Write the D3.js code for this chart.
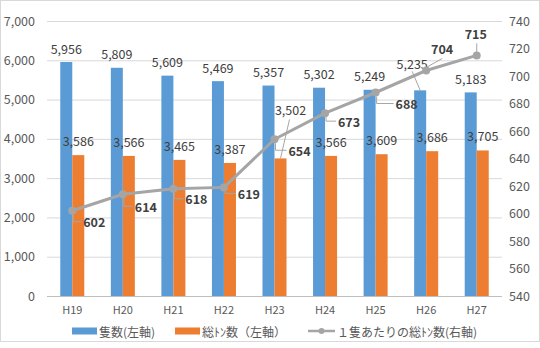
<!DOCTYPE html>
<html><head><meta charset="utf-8">
<script src="https://cdn.jsdelivr.net/npm/d3@7"></script>
<style>
html,body{margin:0;padding:0;background:#fff;}
svg text{font-family:"Noto Sans CJK JP","Noto Sans",sans-serif;}
</style></head>
<body><svg id="c" width="540" height="348"></svg>
<script>
// ---- data ----
const categories = ["H19","H20","H21","H22","H23","H24","H25","H26","H27"];
const shipCounts = [5956,5809,5609,5469,5357,5302,5249,5235,5183];
const grossTons  = [3586,3566,3465,3387,3502,3566,3609,3686,3705];
const tonsPerShip = [602,614,618,619,654,673,688,704,715];
const leftTicks = [0,1000,2000,3000,4000,5000,6000,7000];
const rightTicks = [540,560,580,600,620,640,660,680,700,720,740];
const legendLabels = ["隻数(左軸)","総ﾄﾝ数（左軸）","１隻あたりの総ﾄﾝ数(右軸)"];

// ---- layout ----
const W=540,H=348;
const plot={l:47,r:502,t:21,b:296};
const colors={blue:"#5B9BD5",orange:"#ED7D31",gray:"#A5A5A5",text:"#404040",axis:"#595959",grid:"#D9D9D9"};
// label offsets for line labels (dx,dy of label centre from point)
const lineLabelOffset=[[22,11],[23,12],[23,10],[25,6],[25,11],[24,8],[31,11],[16,-22],[-1,-22]];

const svg=d3.select("#c");
svg.append("rect").attr("x",0.5).attr("y",0.5).attr("width",539).attr("height",341)
  .attr("fill","#fff").attr("stroke","#D9D9D9");

const x=d3.scaleBand().domain(categories).range([plot.l,plot.r]).paddingInner(0.525).paddingOuter(0.2625);
const xs=d3.scaleBand().domain(["a","b"]).range([0,x.bandwidth()]);
const yL=d3.scaleLinear().domain([0,7000]).range([plot.b,plot.t]);
const yR=d3.scaleLinear().domain([540,740]).range([plot.b,plot.t]);

// grid
svg.append("g").selectAll("line").data(leftTicks.filter(d=>d>0)).join("line")
  .attr("x1",plot.l).attr("x2",plot.r).attr("y1",d=>yL(d)+0.5).attr("y2",d=>yL(d)+0.5)
  .attr("stroke",colors.grid).attr("stroke-width",1);

// left axis
const gL=svg.append("g").attr("transform",`translate(${plot.l},0)`)
  .call(d3.axisLeft(yL).tickValues(leftTicks).tickFormat(d3.format(",")).tickSize(0).tickPadding(12));
gL.select(".domain").remove();
gL.selectAll("text").attr("fill",colors.axis).style("font-size","12.5px");

// right axis
const gR=svg.append("g").attr("transform",`translate(${plot.r},0)`)
  .call(d3.axisRight(yR).tickValues(rightTicks).tickSize(0).tickPadding(7));
gR.select(".domain").remove();
gR.selectAll("text").attr("fill",colors.axis).style("font-size","12.5px");

// bottom axis
const gB=svg.append("g").attr("transform",`translate(0,${plot.b})`)
  .call(d3.axisBottom(x).tickSize(0).tickPadding(10));
gB.select(".domain").remove();
gB.selectAll("text").attr("fill",colors.axis).style("font-size","11px");

// bars
const bars=svg.append("g");
bars.selectAll(".b1").data(categories).join("rect")
  .attr("x",d=>x(d)+xs("a")).attr("width",xs.bandwidth())
  .attr("y",(d,i)=>yL(shipCounts[i])).attr("height",(d,i)=>plot.b-yL(shipCounts[i]))
  .attr("fill",colors.blue);
bars.selectAll(".b2").data(categories).join("rect")
  .attr("x",d=>x(d)+xs("b")).attr("width",xs.bandwidth())
  .attr("y",(d,i)=>yL(grossTons[i])).attr("height",(d,i)=>plot.b-yL(grossTons[i]))
  .attr("fill",colors.orange);

// axis line
svg.append("line").attr("x1",plot.l).attr("x2",plot.r).attr("y1",plot.b+0.5).attr("y2",plot.b+0.5)
  .attr("stroke","#BFBFBF");

const lbl=svg.append("g");
// blue bar labels (H26 moved), orange (H23 moved)
const blueMove=categories.map((d,i)=>i===7?[-8,-13]:[0,0]);
const orangeMove=categories.map((d,i)=>i===4?[10,-34]:[0,0]);
categories.forEach((d,i)=>{
  if(blueMove[i][0]||blueMove[i][1]){
    const bx=x(d)+xs("a")+xs.bandwidth()/2, by=yL(shipCounts[i]);
    lbl.append("line").attr("x1",bx+blueMove[i][0]).attr("y1",by-14+blueMove[i][1]+8)
      .attr("x2",bx).attr("y2",by).attr("stroke","#A6A6A6");
  }
  if(orangeMove[i][0]||orangeMove[i][1]){
    const bx=x(d)+xs("b")+xs.bandwidth()/2, by=yL(grossTons[i]);
    lbl.append("line").attr("x1",bx+orangeMove[i][0]-1).attr("y1",by-14+orangeMove[i][1]+9)
      .attr("x2",bx).attr("y2",by).attr("stroke","#A6A6A6");
  }
});
lbl.selectAll(".t1").data(categories).join("text")
  .attr("x",(d,i)=>x(d)+xs("a")+xs.bandwidth()/2+blueMove[i][0])
  .attr("y",(d,i)=>yL(shipCounts[i])-14+blueMove[i][1])
  .attr("text-anchor","middle").attr("dominant-baseline","central")
  .attr("fill",colors.text).style("font-size","12.5px")
  .text((d,i)=>d3.format(",")(shipCounts[i]));
lbl.selectAll(".t2").data(categories).join("text")
  .attr("x",(d,i)=>x(d)+xs("b")+xs.bandwidth()/2+orangeMove[i][0])
  .attr("y",(d,i)=>yL(grossTons[i])-14.5+orangeMove[i][1])
  .attr("text-anchor","middle").attr("dominant-baseline","central")
  .attr("fill",colors.text).style("font-size","12.5px")
  .text((d,i)=>d3.format(",")(grossTons[i]));

// line
const cx=d=>x(d)+x.bandwidth()/2;
const line=d3.line().x((d,i)=>cx(categories[i])).y(d=>yR(d));
svg.append("path").datum(tonsPerShip).attr("d",line).attr("fill","none")
  .attr("stroke",colors.gray).attr("stroke-width",3).attr("stroke-linejoin","round");
svg.append("g").selectAll("circle").data(tonsPerShip).join("circle")
  .attr("cx",(d,i)=>cx(categories[i])).attr("cy",d=>yR(d)).attr("r",4).attr("fill",colors.gray);

// line labels + leaders
const ll=svg.append("g");
tonsPerShip.forEach((v,i)=>{
  const px=cx(categories[i]), py=yR(v);
  const [dx,dy]=lineLabelOffset[i];
  const lx=px+dx, ly=py+dy;
  if(dy>0){
    ll.append("path").attr("d",`M${px+1},${py+4}V${ly}H${lx-13}`)
      .attr("fill","none").attr("stroke","#A6A6A6");
  } else {
    ll.append("line").attr("x1",px).attr("y1",py-3).attr("x2",lx+(dx>5?0:1)).attr("y2",ly+10)
      .attr("stroke","#A6A6A6");
  }
  ll.append("text").attr("x",lx).attr("y",ly).attr("text-anchor","middle")
    .attr("dominant-baseline","central").attr("fill",colors.text)
    .style("font-size","12.5px").style("font-weight","bold").text(v);
});

// legend
const lg=svg.append("g");
const ly0=331;
lg.append("rect").attr("x",72).attr("y",ly0-3.5).attr("width",25).attr("height",7).attr("fill",colors.blue);
lg.append("text").attr("x",99).attr("y",ly0).attr("dominant-baseline","central").attr("fill",colors.axis).style("font-size","12px").text(legendLabels[0]);
lg.append("rect").attr("x",175).attr("y",ly0-3.5).attr("width",25).attr("height",7).attr("fill",colors.orange);
lg.append("text").attr("x",202).attr("y",ly0).attr("dominant-baseline","central").attr("fill",colors.axis).style("font-size","12px").text(legendLabels[1]);
lg.append("line").attr("x1",308).attr("x2",335).attr("y1",ly0).attr("y2",ly0).attr("stroke",colors.gray).attr("stroke-width",2.5);
lg.append("circle").attr("cx",321.5).attr("cy",ly0).attr("r",3).attr("fill",colors.gray);
lg.append("text").attr("x",337).attr("y",ly0).attr("dominant-baseline","central").attr("fill",colors.axis).style("font-size","12px").text(legendLabels[2]);
</script></body></html>
